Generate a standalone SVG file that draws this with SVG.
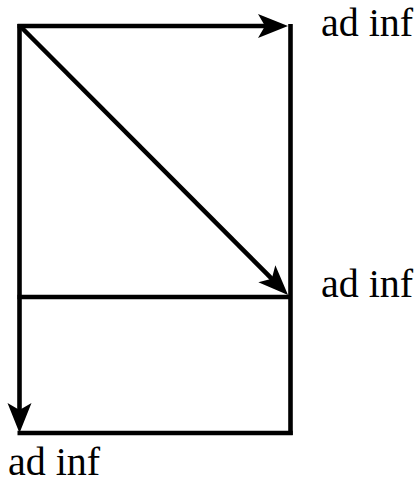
<svg xmlns="http://www.w3.org/2000/svg" width="419" height="484" viewBox="0 0 419 484">
<style>
.ln{stroke:#000;stroke-width:4.6;fill:none;stroke-linecap:butt}
.lb{font-family:"Liberation Serif","Times New Roman",serif;font-size:40px;fill:#000}
</style>
<defs>
<marker id="ah" markerUnits="userSpaceOnUse" markerWidth="40" markerHeight="40" viewBox="-15 -15 40 30" refX="0" refY="0" orient="auto" overflow="visible">
<path d="M20,0 L-10,-12 L-3,0 L-10,12 Z" fill="#000"/>
</marker>
</defs>
<g id="connectors">
<path class="ln" d="M290.5,24 V435"/>
<path class="ln" d="M17.5,433 H292.7"/>
<path class="ln" d="M17.5,297 H290.5"/>
<path class="ln" d="M17.5,26 H268" marker-end="url(#ah)"/>
<path class="ln" d="M19.5,24 V413" marker-end="url(#ah)"/>
<path class="ln" d="M20,26 L273.9,280.8" marker-end="url(#ah)"/>
</g>
<g id="label-top"><text class="lb" x="321" y="35.5">ad inf</text></g>
<g id="label-mid"><text class="lb" x="321" y="297">ad inf</text></g>
<g id="label-bottom"><text class="lb" x="8" y="475">ad inf</text></g>
</svg>
